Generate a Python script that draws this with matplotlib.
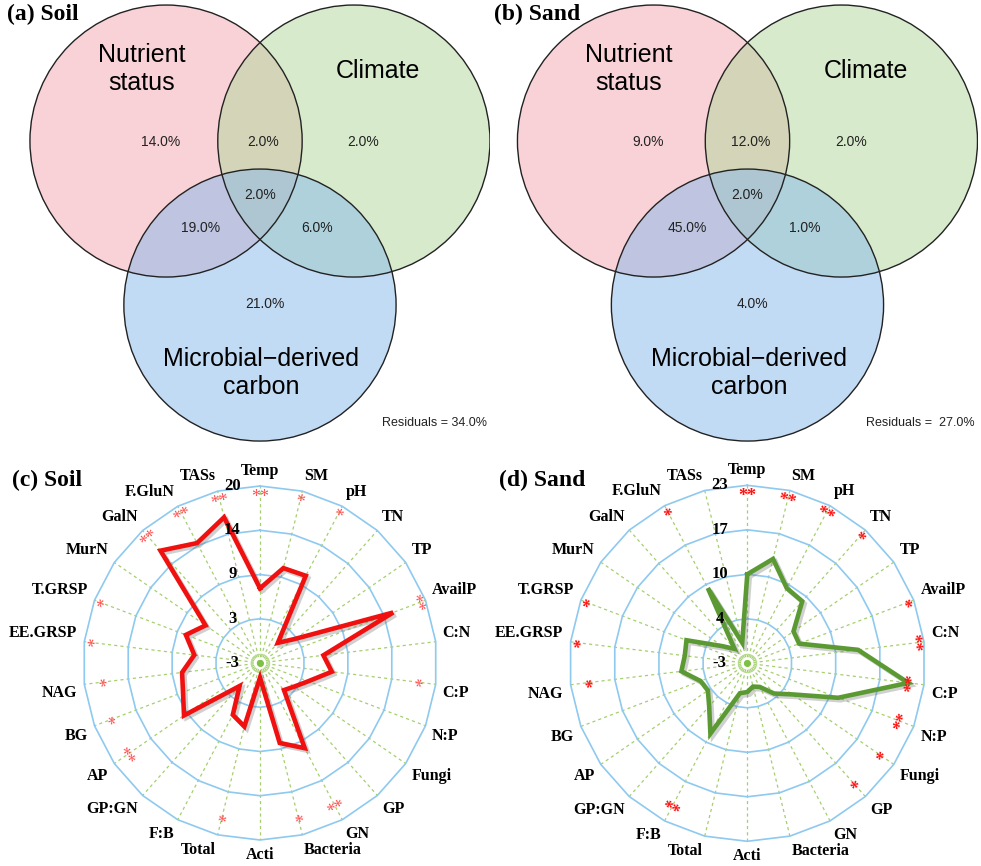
import numpy as np
import matplotlib
matplotlib.use("Agg")
import matplotlib.pyplot as plt
import matplotlib.patheffects as pe
from matplotlib.patches import Circle

# ---- Venn data (variance partitioning) ----
venn_sets = ["Nutrient\nstatus", "Climate", "Microbial\u2212derived\ncarbon"]
venn_colors = ["#f4a6b0", "#b1d99b", "#87b9eb"]
soil_parts = ["14.0%", "2.0%", "2.0%", "2.0%", "19.0%", "6.0%", "21.0%"]
sand_parts = ["9.0%", "12.0%", "2.0%", "2.0%", "45.0%", "1.0%", "4.0%"]
soil_resid = "Residuals = 34.0%"
sand_resid = "Residuals =  27.0%"

# ---- radar data ----
cats = ["Temp", "SM", "pH", "TN", "TP", "AvailP", "C:N", "C:P", "N:P", "Fungi",
        "GP", "GN", "Bacteria", "Acti", "Total", "F:B", "GP:GN", "AP", "BG",
        "NAG", "EE.GRSP", "T.GRSP", "MurN", "GalN", "F.GluN", "TASs"]
soil_vals = [6.7, 9.7, 9.8, 0.5, 2.5, 15.5, 5.3, 6.4, 3.7, 2.4, 1.7, 9.5, 7.7,
             -1.1, 5.5, 4.6, 1.0, 9.0, 7.7, 7.2, 5.6, 7.3, 5.6, 16.5, 14.6, 16.5]
sand_vals = [10.0, 12.7, 9.4, 9.1, 5.2, 5.1, 13.3, 20.7, 11.2, 5.0, 2.9, 0.9, 0.5,
             1.2, 1.5, 8.6, 5.4, 4.0, 4.3, 6.7, 6.2, 6.5, 1.4, -0.2, 9.4, 0.1]
soil_ticks = ["-3", "3", "9", "14", "20"]
sand_ticks = ["-3", "4", "10", "17", "23"]
soil_stars = ["**", "*", "*", "", "", "**", "", "*", "", "", "", "**", "*",
              "", "*", "", "", "**", "*", "*", "*", "*", "", "**", "**", "**"]
sand_stars = ["**", "**", "**", "*", "", "*", "**", "**", "**", "*", "*", "", "",
              "", "", "**", "", "", "", "*", "*", "*", "", "", "*", ""]

W, H = 981, 866
fig = plt.figure(figsize=(W / 100, H / 100), dpi=100)
serif = "Liberation Serif"
sans = "Liberation Sans"


def venn(left_px, parts, resid, title):
    ax = fig.add_axes([left_px / W, 1 - 445 / H, 490 / W, 445 / H])
    ax.set_xlim(-1.91, 1.69)
    ax.set_ylim(-1.632, 1.64)
    ax.axis("off")
    centers = [(-0.69, 0.603), (0.69, 0.603), (0.0, -0.603)]
    for (cx, cy), col in zip(centers, venn_colors):
        ax.add_patch(Circle((cx, cy), 1.0, facecolor=col, alpha=0.5, edgecolor="none"))
    for (cx, cy) in centers:
        ax.add_patch(Circle((cx, cy), 1.0, facecolor="none", edgecolor="#222222", lw=1.0))
    lab_pos = [(-0.87, 1.13), (0.87, 1.12), (0.01, -1.10)]
    for (x, y), s in zip(lab_pos, venn_sets):
        ax.text(x, y, s, ha="center", va="center", fontsize=18, family=sans,
                linespacing=1.2)
    part_pos = [(-0.73, 0.596), (0.02, 0.596), (0.76, 0.596), (0.0, 0.206),
                (-0.44, -0.04), (0.42, -0.04), (0.035, -0.596)]
    for (x, y), s in zip(part_pos, parts):
        ax.text(x, y, s, ha="center", va="center", fontsize=10, family=sans,
                color="#222222")
    ax.text(1.67, -1.47, resid, ha="right", va="center", fontsize=9, family=sans,
            color="#222222")
    fig.text((left_px + 7) / W, 1 - 14 / H, title, ha="left", va="center",
             fontsize=17, fontweight="bold", family=serif)


def radar(cx, cy, R, vals, ticks, stars, color, star_col, star_bold, title):
    ax = fig.add_axes([(cx - R) / W, 1 - (cy + R) / H, 2 * R / W, 2 * R / H],
                      projection="polar")
    n = len(cats)
    rmin, rmax = float(ticks[0]), float(ticks[-1])
    ax.set_theta_zero_location("N")
    ax.set_theta_direction(-1)
    ax.set_ylim(rmin, rmax)
    ax.axis("off")
    theta = np.arange(n) * 2 * np.pi / n
    tc = np.r_[theta, theta[0]]
    levels = np.linspace(rmin, rmax, len(ticks))
    for t in theta:
        ax.plot([t, t], [rmin, rmax], color="#a6cf6e", lw=0.9, ls=(0, (2.5, 2.5)),
                zorder=1)
    for lv in levels[1:]:
        ax.plot(tc, [lv] * (n + 1), color="#8ec9ef", lw=1.2, zorder=2, clip_on=False)
    ax.plot([0], [rmin], "o", ms=4, color="#7cc142", zorder=3)
    ax.plot([0], [rmin], "o", ms=13, mfc="none", mec="#b5dc8f", mew=1.0, zorder=3)
    ax.plot(tc, np.r_[vals, vals[0]], color=color, lw=3.3, zorder=5,
            solid_joinstyle="miter",
            path_effects=[pe.SimpleLineShadow(offset=(1.8, -1.8), shadow_color="#666666",
                                              alpha=0.3), pe.Normal()])
    for lv, lab in zip(levels, ticks):
        ax.annotate(lab, xy=(0, lv), xytext=(-20, 0), textcoords="offset points",
                    ha="center", va="center", fontsize=12, fontweight="bold",
                    family=serif, zorder=6)
    rlab = rmax + 0.04 * (rmax - rmin)
    rstar = rmin + 0.935 * (rmax - rmin)
    for t, name, st in zip(theta, cats, stars):
        s, c = np.sin(t), np.cos(t)
        ha = "left" if s > 0.05 else ("right" if s < -0.05 else "center")
        va = "bottom" if c > 0.05 else ("top" if c < -0.05 else "center")
        ax.text(t, rlab, name, ha=ha, va=va, fontsize=11.5, fontweight="bold",
                family=serif, clip_on=False)
        if st:
            rot = -np.degrees(t)
            while rot <= -90:
                rot += 180
            ax.text(t, rstar, st, ha="center", va="center", rotation=rot,
                    rotation_mode="anchor", fontsize=13, color=star_col,
                    fontweight="bold" if star_bold else "normal", family=serif,
                    clip_on=False, zorder=6)
    fig.text((cx - 248) / W, 1 - 480 / H, title, ha="left", va="center",
             fontsize=17, fontweight="bold", family=serif)


venn(0, soil_parts, soil_resid, "(a) Soil")
venn(487.5, sand_parts, sand_resid, "(b) Sand")
radar(260, 663, 177, soil_vals, soil_ticks, soil_stars, "#f0100f", "#ff5050", False,
      "(c) Soil")
radar(747.3, 663.3, 178, sand_vals, sand_ticks, sand_stars, "#5b9a33", "#ff1010", True,
      "(d) Sand")

fig.savefig("out.png", dpi=100)
